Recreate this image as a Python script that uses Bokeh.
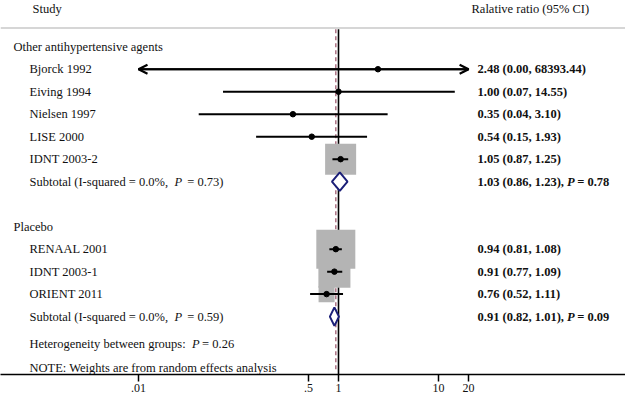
from bokeh.plotting import figure
from bokeh.models import (ColumnDataSource, Range1d, FixedTicker, Span, Arrow, OpenHead)
from bokeh.core.properties import value
from bokeh.embed import file_html
from bokeh.resources import INLINE
import math

# ---------------- data ----------------
group_names = ["Other antihypertensive agents", "Placebo"]
g1_studies = ["Bjorck 1992", "Eiving 1994", "Nielsen 1997", "LISE 2000", "IDNT 2003-2"]
g1_rr = [2.48, 1.00, 0.35, 0.54, 1.05]
g1_lo = [0.00, 0.07, 0.04, 0.15, 0.87]
g1_hi = [68393.44, 14.55, 3.10, 1.93, 1.25]
g1_weight = [0.0, 0.03, 0.05, 0.1, 25.5]

g2_studies = ["RENAAL 2001", "IDNT 2003-1", "ORIENT 2011"]
g2_rr = [0.94, 0.91, 0.76]
g2_lo = [0.81, 0.77, 0.52]
g2_hi = [1.08, 1.09, 1.11]
g2_weight = [40.3, 27.2, 6.8]

sub_rr = [1.03, 0.91]
sub_lo = [0.86, 0.82]
sub_hi = [1.23, 1.01]
sub_i2 = ["0.0%", "0.0%"]
sub_p_het = ["0.73", "0.59"]
sub_p_eff = ["0.78", "0.09"]
between_p = "0.26"
overall_rr = 0.94

tick_values = [0.01, 0.5, 1, 10, 20]
tick_labels = [".01", ".5", "1", "10", "20"]
axis_min, axis_max = 0.01, 20

# ---------------- layout helpers ----------------
FONT = "Liberation Serif"
FS = 12.5
W, H = 625, 394

def xpx(ix):
    """pixel column -> data value on the log axis (1 at px 338, 100 px per decade)"""
    return 10 ** ((ix - 338) / 100.0)

REG = {' ': 250, '(': 333, ')': 333, ',': 250, '.': 250, '%': 833, '-': 333, '=': 564,
       ':': 278, 'I': 333, 'S': 556, 'H': 722, 'P': 556}
for c in "0123456789":
    REG[c] = 500
REG.update({'a': 444, 'b': 500, 'd': 500, 'e': 444, 'l': 278, 'o': 500, 'q': 500, 'r': 333,
            's': 389, 't': 278, 'u': 500, 'g': 500, 'n': 500, 'i': 278, 'y': 500, 'w': 722,
            'h': 500, 'p': 500})
BOLD = dict(REG)
BOLD['='] = 570
PW = 0.611  # italic P advance

def width(s, table=REG):
    return sum(table.get(c, 500) for c in s) / 1000.0 * FS

p = figure(width=W, height=H, x_axis_type="log", output_backend="svg", toolbar_location=None,
           x_range=Range1d(xpx(0), xpx(W)), y_range=Range1d(14.574, -2.056),
           y_axis_location=None, min_border_left=0, min_border_right=0, min_border_top=0,
           min_border_bottom=0)
p.outline_line_color = None
p.grid.visible = False
p.background_fill_color = "white"
p.border_fill_color = "white"

# rows
g1_row = 0
g1_y = [g1_row + 1 + i for i in range(len(g1_studies))]
sub1_y = g1_y[-1] + 1
g2_row = sub1_y + 2
g2_y = [g2_row + 1 + i for i in range(len(g2_studies))]
sub2_y = g2_y[-1] + 1
het_y = sub2_y + 1.24
note_y = sub2_y + 2.29
header_y = -1.70
rule_y = -0.83

# header rule
p.add_layout(Span(location=rule_y, dimension="width", line_color="#c9c9c9", line_width=1.6))

# reference lines
p.segment(x0=[1], y0=[rule_y + 0.05], x1=[1], y1=[14.574], line_color="black", line_width=1.6)
p.segment(x0=[overall_rr], y0=[rule_y + 0.05], x1=[overall_rr], y1=[14.45], line_color="#a5677a",
          line_width=1.4, line_dash="4 3")

all_rr = g1_rr + g2_rr
all_lo = g1_lo + g2_lo
all_hi = g1_hi + g2_hi
all_y = g1_y + g2_y
all_w = g1_weight + g2_weight
k = 39 / math.sqrt(max(all_w))
box_src = ColumnDataSource(dict(x=all_rr, y=all_y, s=[k * math.sqrt(w) for w in all_w]))
p.scatter(x="x", y="y", size="s", marker="square", source=box_src, fill_color="#b4b4b4",
          line_color=None)

# CI lines (clipped to the axis window), arrows where clipped
seg_x0, seg_x1, seg_y = [], [], []
arr_xs, arr_xe, arr_y = [], [], []
for rr, lo, hi, y in zip(all_rr, all_lo, all_hi, all_y):
    clo, chi = max(lo, axis_min), min(hi, axis_max)
    seg_x0.append(clo); seg_x1.append(chi); seg_y.append(y)
    if lo < axis_min:
        arr_xs.append(rr); arr_xe.append(axis_min); arr_y.append(y)
    if hi > axis_max:
        arr_xs.append(rr); arr_xe.append(axis_max); arr_y.append(y)
p.segment(x0=seg_x0, y0=seg_y, x1=seg_x1, y1=seg_y, line_color="black", line_width=2)
arr_src = ColumnDataSource(dict(xs=arr_xs, xe=arr_xe, y=arr_y))
p.add_layout(Arrow(end=OpenHead(size=9, line_width=2.2, line_color="black"),
                   x_start="xs", x_end="xe", y_start="y", y_end="y", source=arr_src,
                   line_color="black", line_width=2))
p.scatter(x=all_rr, y=all_y, size=5.5, marker="circle", fill_color="black", line_color="black")

# subtotal diamonds
dh = 0.41
xs, ys = [], []
for rr, lo, hi, y in zip(sub_rr, sub_lo, sub_hi, [sub1_y, sub2_y]):
    xs.append([lo, rr, hi, rr])
    ys.append([y, y - dh, y, y + dh])
p.patches(xs=xs, ys=ys, fill_color="white", line_color="#1b1f78", line_width=2)

# ---------------- texts ----------------
def fmt(v):
    return f"{v:.2f}"

pieces = {"normal": [], "italic": [], "bold": [], "bold italic": []}

def add(style, x, y, s, off=0.0):
    pieces[style].append((x, y, s, off))

X_GROUP, X_STUDY, X_RIGHT = xpx(13), xpx(29), xpx(477)
add("normal", xpx(32), header_y, "Study")
add("normal", xpx(471), header_y, "Ralative ratio (95% CI)")

add("normal", X_GROUP, g1_row, group_names[0])
add("normal", X_GROUP, g2_row, group_names[1])
for name, y in zip(g1_studies + g2_studies, all_y):
    add("normal", X_STUDY, y, name)
for rr, lo, hi, y in zip(all_rr, all_lo, all_hi, all_y):
    add("bold", X_RIGHT, y, f"{fmt(rr)} ({fmt(lo)}, {fmt(hi)})")

for i, y in enumerate([sub1_y, sub2_y]):
    a = f"Subtotal  (I-squared = {sub_i2[i]}, "
    add("normal", X_STUDY, y, "Subtotal (I-squared = " + sub_i2[i] + ",")
    add("italic", X_STUDY, y, "P", width(a))
    add("normal", X_STUDY, y, f"= {sub_p_het[i]})", width(a) + (PW + 0.42) * FS)
    b = f"{fmt(sub_rr[i])} ({fmt(sub_lo[i])}, {fmt(sub_hi[i])}), "
    add("bold", X_RIGHT, y, b.strip())
    add("bold italic", X_RIGHT, y, "P", width(b, BOLD))
    add("bold", X_RIGHT, y, f"= {sub_p_eff[i]}", width(b, BOLD) + (PW + 0.2) * FS)

h = "Heterogeneity  between groups: "
add("normal", X_STUDY, het_y, "Heterogeneity between groups:")
add("italic", X_STUDY, het_y, "P", width(h))
add("normal", X_STUDY, het_y, f"= {between_p}", width(h) + (PW + 0.2) * FS)
add("normal", X_STUDY, note_y, "NOTE: Weights are from random effects analysis")

for style, items in pieces.items():
    if not items:
        continue
    src = ColumnDataSource(dict(x=[t[0] for t in items], y=[t[1] for t in items],
                                text=[t[2] for t in items], off=[t[3] for t in items]))
    p.text(x="x", y="y", text="text", x_offset="off", source=src, text_font=value(FONT),
           text_font_size=f"{FS}px", text_font_style=style, text_baseline="middle",
           text_align="left", text_color="#111111")

# ---------------- axis ----------------
ax = p.xaxis[0]
ax.ticker = FixedTicker(ticks=tick_values)
ax.major_label_overrides = {v: l for v, l in zip(tick_values, tick_labels)}
ax.minor_tick_line_color = None
ax.major_tick_in = 0
ax.major_tick_out = 7
ax.major_tick_line_width = 1.5
ax.axis_line_width = 1.5
ax.axis_line_color = "black"
ax.major_tick_line_color = "black"
ax.major_label_standoff = 2
ax.major_label_text_font = FONT
ax.major_label_text_font_size = "12px"
ax.major_label_text_color = "#111111"

open("out.html", "w").write(file_html(p, INLINE))
